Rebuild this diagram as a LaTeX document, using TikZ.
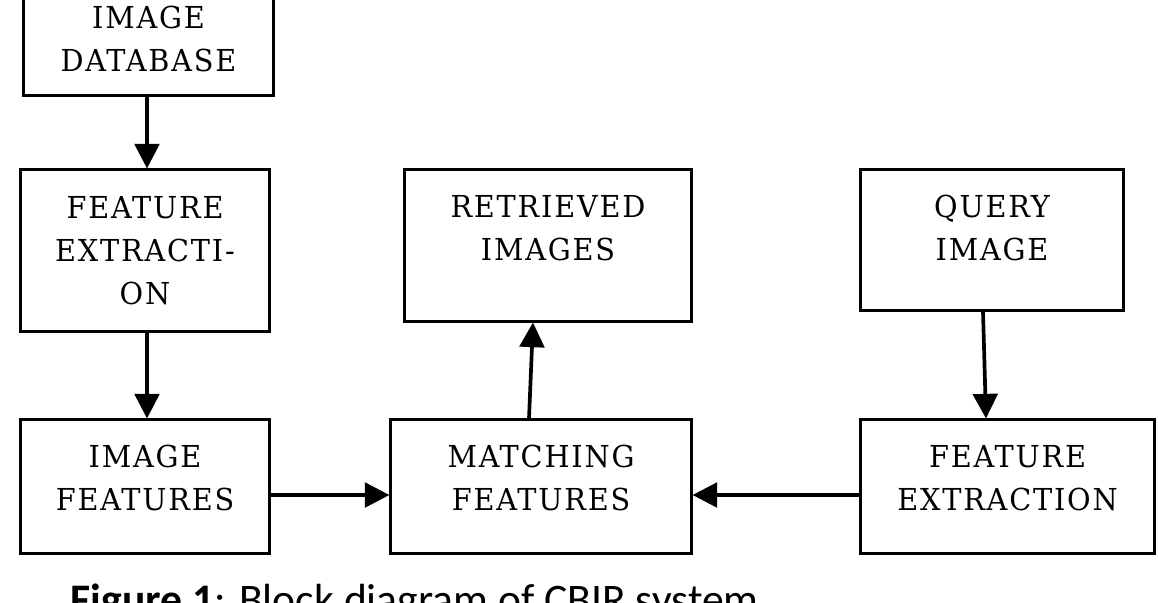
\documentclass[tikz,border=0pt]{standalone}
\usepackage{fontspec}
\setmainfont[FakeStretch=0.95,LetterSpace=6]{DejaVu Serif}
\newfontfamily\capfont{Carlito}
\usetikzlibrary{arrows.meta}
\tikzset{
  block/.style={draw,line width=0.85pt,inner sep=0pt},
  lbl/.style={align=center,inner sep=0pt,font=\fontsize{8.6}{12.2}\selectfont},
  flow/.style={line width=1.05pt,-{Triangle[length=7pt,width=7pt]}}
}
\begin{document}
\begin{tikzpicture}[x=0.01cm,y=-0.01cm]
\useasboundingbox (0,0) rectangle (1158,602);
\clip (0,0) rectangle (1158,602);
% left column
\node[block,minimum width=2.49cm,minimum height=1.28cm,label={[lbl,yshift=-0.08cm]center:IMAGE\\DATABASE}] (db) at (148.5,31) {};
\node[block,minimum width=2.48cm,minimum height=1.61cm,label={[lbl]center:FEATURE\\EXTRACTI-\\ON}] (fe1) at (145,250.5) {};
\node[block,minimum width=2.48cm,minimum height=1.33cm,label={[lbl,yshift=0.085cm]center:IMAGE\\FEATURES}] (imf) at (145,486.5) {};
% middle column
\node[block,minimum width=2.86cm,minimum height=1.51cm,label={[lbl,yshift=0.175cm]center:RETRIEVED\\IMAGES}] (ret) at (548,245.5) {};
\node[block,minimum width=3.0cm,minimum height=1.33cm,label={[lbl,yshift=0.085cm]center:MATCHING\\FEATURES}] (mat) at (541,486.5) {};
% right column
\node[block,minimum width=2.62cm,minimum height=1.4cm,label={[lbl,yshift=0.12cm]center:QUERY\\IMAGE}] (qry) at (992,240) {};
\node[block,minimum width=2.93cm,minimum height=1.33cm,label={[lbl,yshift=0.085cm]center:FEATURE\\EXTRACTION}] (fe2) at (1007.5,486.5) {};
% arrows
\draw[flow] (db.south -| 147,0) -- (fe1.north -| 147,0);
\draw[flow] (fe1.south -| 147,0) -- (imf.north -| 147,0);
\draw[flow] (imf.east |- 0,495) -- (mat.west |- 0,495);
\draw[flow] (fe2.west |- 0,495) -- (mat.east |- 0,495);
\draw[flow] (mat.north -| 529,0) -- (ret.south -| 533,0);
\draw[flow] (qry.south -| 983,0) -- (fe2.north -| 986,0);
% caption
\node[anchor=base west,font=\capfont\fontsize{12.4}{14}\selectfont,inner sep=0pt] (cap) at (70,614) {\textbf{Figure 1}: Block diagram of CBIR system};
\end{tikzpicture}
\end{document}
